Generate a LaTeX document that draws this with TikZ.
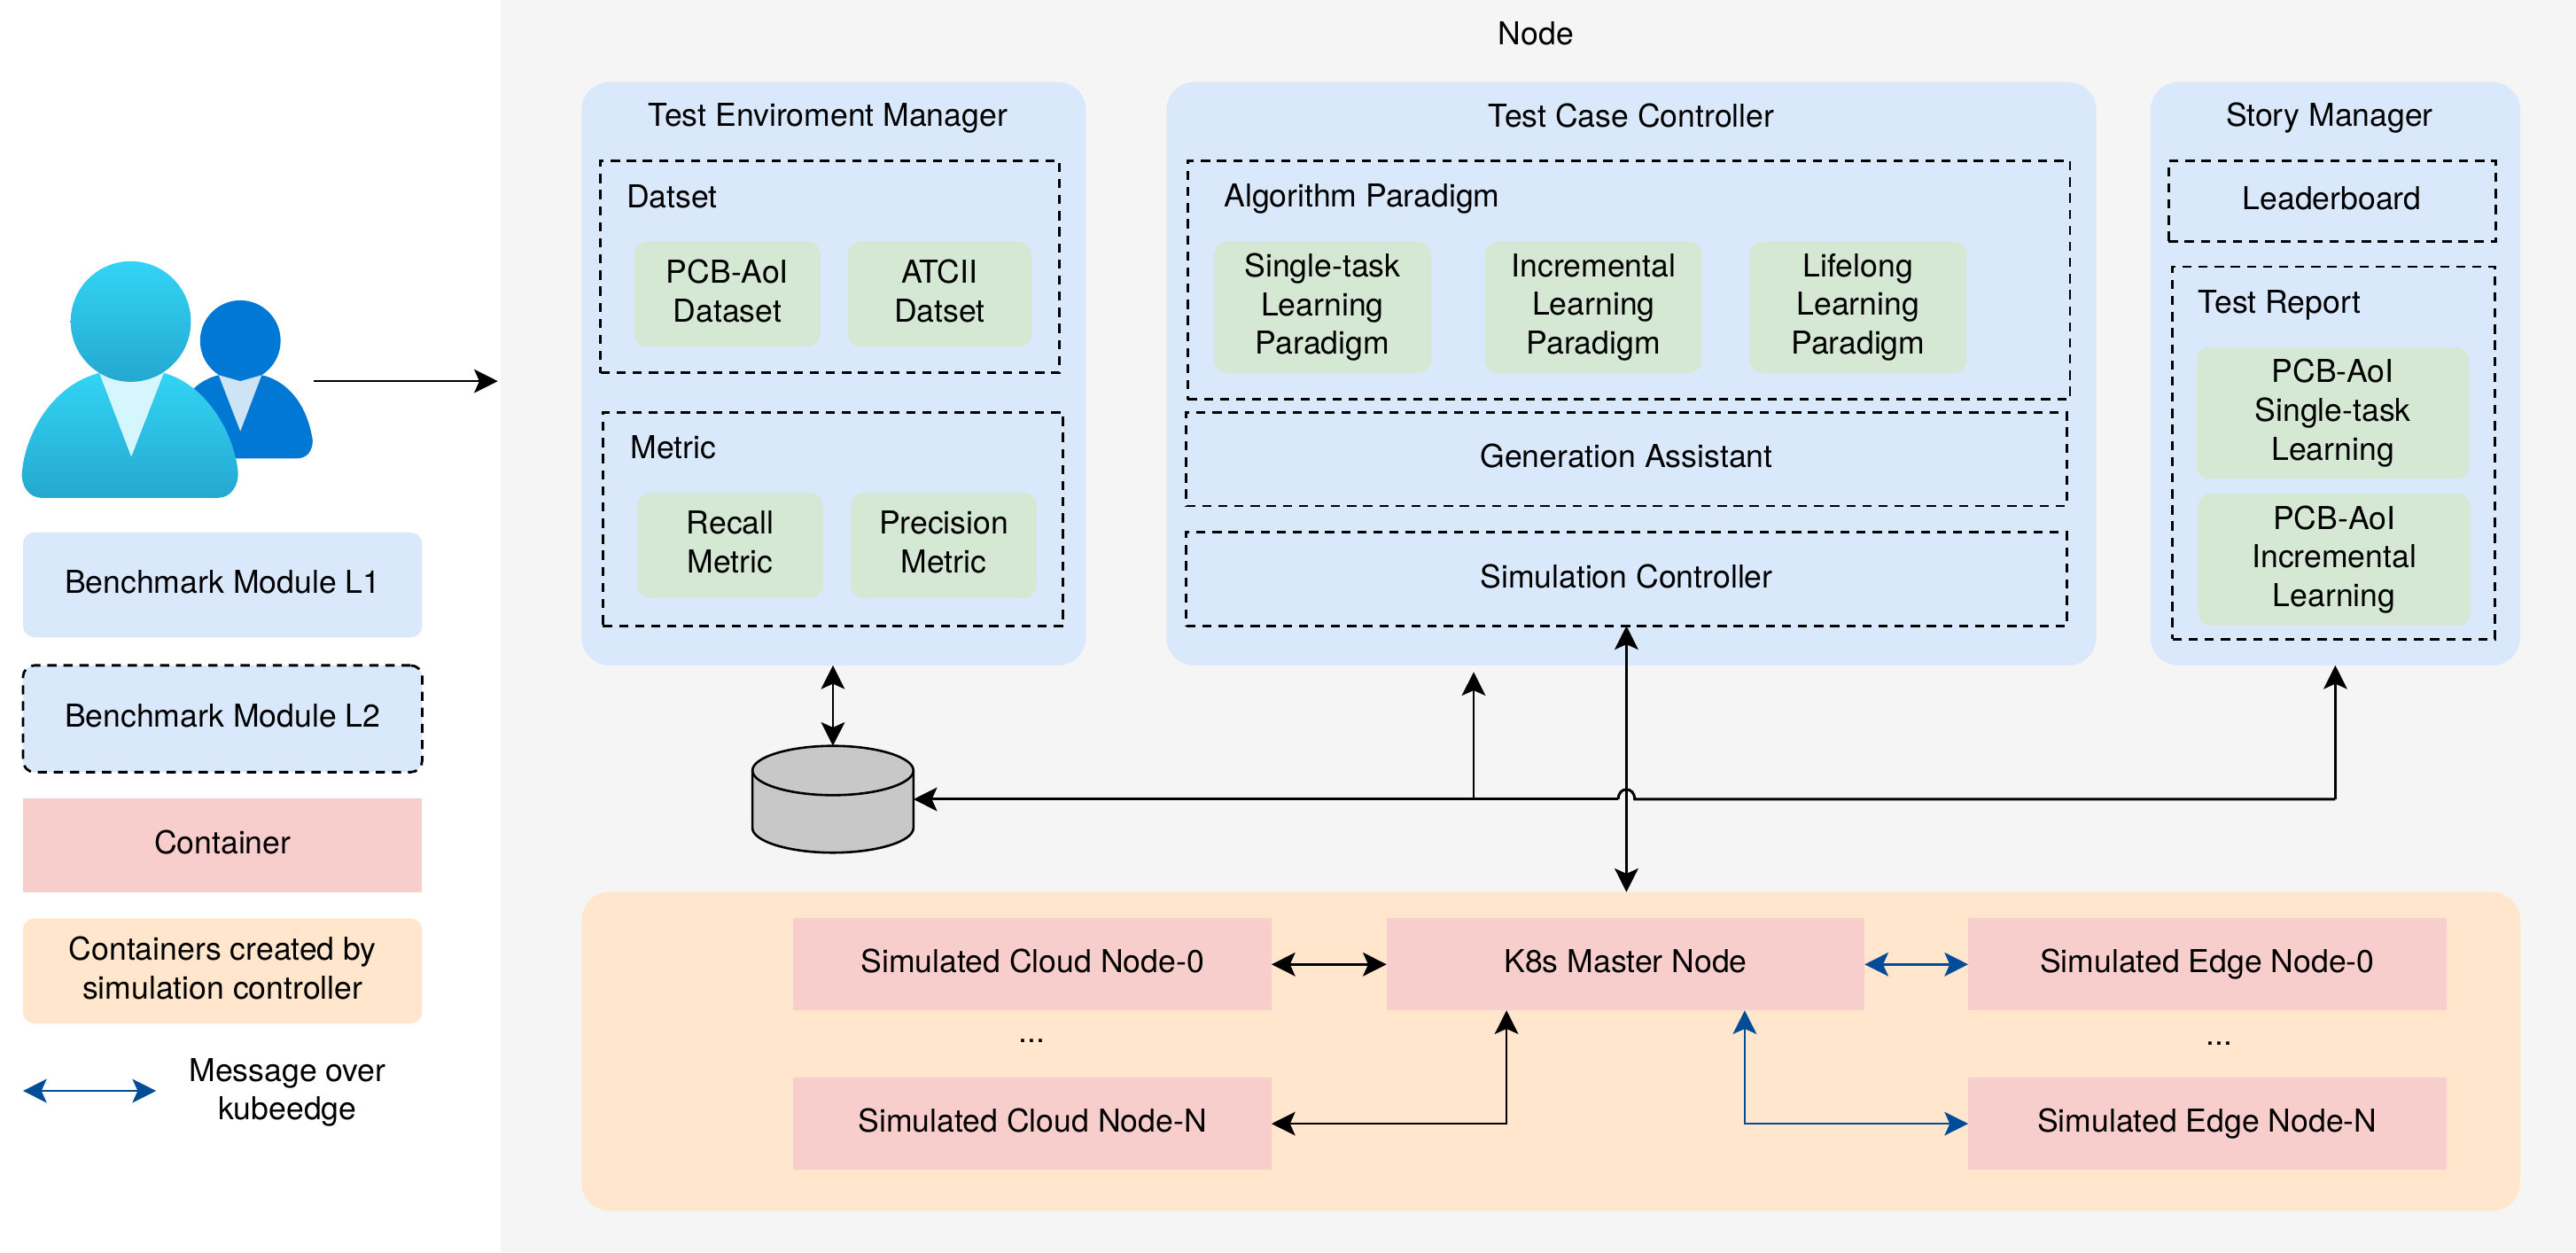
\documentclass[tikz,border=0pt]{standalone}
\usepackage{fontspec}
\setmainfont{TeX Gyre Heros}
\usetikzlibrary{arrows.meta,calc}
\definecolor{nodebg}{HTML}{F5F5F5}
\definecolor{modblue}{HTML}{DAE8FC}
\definecolor{leafgreen}{HTML}{D5E8D4}
\definecolor{contred}{HTML}{F8CECC}
\definecolor{contorange}{HTML}{FFE6CC}
\definecolor{kubeblue}{HTML}{004C99}
\definecolor{dbgrey}{HTML}{C8C8C8}
\definecolor{cyanA}{HTML}{32D4F5}
\definecolor{cyanB}{HTML}{25A8D0}
\definecolor{userblue}{HTML}{0078D4}
\newcommand{\capstrut}{\rule[-2pt]{0pt}{8.9pt}}
\tikzset{
  headtip/.tip={Stealth[length=7.2pt,width=7.2pt,inset=1.6pt]},
  x=0.5pt,y=-0.5pt,
  every node/.style={inner sep=0pt,outer sep=0pt,align=center,font=\fontsize{9.6}{11.8}\selectfont,text=black},
  lbl/.style={execute at begin node=\capstrut,execute at end node=\capstrut},
  lvlone/.style={fill=modblue,rounded corners=8.5pt},
  legone/.style={lbl,fill=modblue,rounded corners=3.5pt},
  lvltwo/.style={lbl,draw=black,line width=0.75pt,dash pattern=on 2.8pt off 2.1pt},
  legtwo/.style={lvltwo,fill=modblue,rounded corners=3.5pt},
  leaf/.style={lbl,fill=leafgreen,rounded corners=4pt},
  cont/.style={lbl,fill=contred},
  contbig/.style={fill=contorange,rounded corners=8.5pt},
  legorange/.style={lbl,fill=contorange,rounded corners=3.5pt},
  link/.style={draw=black,line width=0.65pt,{headtip}-{headtip}},
  uplink/.style={draw=black,line width=0.65pt,-{headtip}},
  buslink/.style={draw=black,line width=0.8pt},
  kube/.style={draw=kubeblue,line width=0.65pt,{headtip}-{headtip}},
}
\newcommand{\boxat}[7][]{%
  \pgfmathsetmacro{\bxw}{(#5-#3)*0.5}\pgfmathsetmacro{\bxh}{(#6-#4)*0.5}%
  \pgfmathsetmacro{\bxx}{(#3+#5)/2}\pgfmathsetmacro{\bxy}{(#4+#6)/2}%
  \node[#1,minimum width=\bxw pt,minimum height=\bxh pt] (#2) at (\bxx,\bxy) {#7};}
\begin{document}
\begin{tikzpicture}
\useasboundingbox (0,0) rectangle (1568,762.16);
% node background
\boxat[fill=nodebg]{nodebg}{305}{0}{1568}{762.16}{}
\node[lbl] (nodetitle) at (935,22) {Node};

% Test environment manager
\boxat[lvlone]{tem}{354}{50}{661}{405}{}
\node[lbl] (temtitle) at (504,72) {Test Enviroment Manager};
\boxat[lvltwo]{dataset}{365.5}{98}{645}{227}{}
\node[lbl] (datasettitle) at (409,121.4) {Datset};
\boxat[leaf]{pcbdata}{386}{147}{499.5}{211}{PCB-AoI\\Dataset}
\boxat[leaf]{atcdata}{516}{147}{628}{211}{ATCII\\Datset}
\boxat[lvltwo]{metric}{367}{251}{647}{381}{}
\node[lbl] (metrictitle) at (410,274) {Metric};
\boxat[leaf]{recall}{388}{300}{501}{364}{Recall\\Metric}
\boxat[leaf]{precision}{518}{300}{631}{364}{Precision\\Metric}

% Test case controller
\boxat[lvlone]{tcc}{710}{50}{1276}{405}{}
\node[lbl] (tcctitle) at (993,72) {Test Case Controller};
\boxat[lvltwo]{algo}{723}{98}{1260}{243}{}
\node[lbl] (algotitle) at (829,121) {Algorithm Paradigm};
\boxat[leaf]{single}{739}{147}{871}{227}{Single-task\\Learning\\Paradigm}
\boxat[leaf]{incr}{904}{147}{1036}{227}{Incremental\\Learning\\Paradigm}
\boxat[leaf]{life}{1065}{147}{1197}{227}{Lifelong\\Learning\\Paradigm}
\boxat[lvltwo]{genass}{722}{251}{1258}{308}{Generation Assistant}
\boxat[lvltwo]{simctrl}{722}{324}{1258}{381}{Simulation Controller}

% Story manager
\boxat[lvlone]{story}{1309}{50}{1534}{405}{}
\node[lbl] (storytitle) at (1418,72) {Story Manager};
\boxat[lvltwo]{leaderboard}{1320}{98}{1519}{147}{Leaderboard}
\boxat[lvltwo]{report}{1322.4}{162.4}{1518.7}{389}{}
\node[lbl] (reporttitle) at (1387.5,185.5) {Test Report};
\boxat[leaf]{pcbsingle}{1337}{211.3}{1503}{291.5}{PCB-AoI\\Single-task\\Learning}
\boxat[leaf]{pcbincr}{1338}{300.3}{1503.6}{381}{PCB-AoI\\Incremental\\Learning}

% Containers
\boxat[contbig]{ctbig}{354}{543}{1534}{737}{}
\boxat[cont]{cloud0}{483}{559}{774}{615}{Simulated Cloud Node-0}
\boxat[cont]{k8s}{844}{559}{1135}{615}{K8s Master Node}
\boxat[cont]{edge0}{1198}{559}{1489}{615}{Simulated Edge Node-0}
\boxat[cont]{cloudn}{483}{656}{774}{712}{Simulated Cloud Node-N}
\boxat[cont]{edgen}{1198}{656}{1489}{712}{Simulated Edge Node-N}
\node[lbl] (cdots) at (628,629.5) {...};
\node[lbl] (edots) at (1351,631.5) {...};

% Legend
\boxat[legone]{legl1}{14}{324}{257}{388}{Benchmark Module L1}
\boxat[legtwo]{legl2}{14}{405}{257}{470}{Benchmark Module L2}
\boxat[cont]{legcont}{14}{486}{257}{543}{Container}
\boxat[legorange]{legorg}{14}{559}{257}{623}{Containers created by\\simulation controller}
\node[lbl] (legmsg) at (175,665) {Message over\\kubeedge};
\coordinate (legA) at (14,664);
\coordinate (legB) at (95,664);
\draw[kube] (legA) -- (legB);

% Users icon
\fill[userblue] (133,228.3) .. controls (118,232) and (104,246) .. (102,279) -- (181,279)
  .. controls (187,279) and (190.5,274) .. (190.3,268) .. controls (187,246) and (175,232) .. (159.5,228.3) -- cycle;
\fill[userblue] (146.3,207.4) ellipse [x radius=24.5,y radius=24.6];
\fill[white!80!userblue] (133.1,228.3) -- (146.3,262.5) -- (159.3,228.3) -- (146.3,232) -- cycle;
\shade[top color=cyanA,middle color=cyanA,bottom color=cyanB]
  (60.5,227) .. controls (33,234) and (16,262) .. (13.4,287)
  .. controls (12.5,296) and (18,303) .. (25,303) -- (133,303)
  .. controls (140,303) and (145.5,296) .. (144.9,287)
  .. controls (142,262) and (125,234) .. (99.7,227) -- cycle;
\fill[cyanA!20!white] (60.5,227) -- (79.9,278) -- (99.7,227) -- (79.6,232) -- cycle;
\shade[top color=cyanA,middle color=cyanA,bottom color=cyanB] (79.6,195.7) ellipse [x radius=36.6,y radius=36.7];
\coordinate (usersout) at (191,232);
\coordinate (nodeedge) at (303,232);
\draw[uplink] (usersout) -- (nodeedge);

% Database
\boxat[]{db}{458}{454}{556}{519}{}
\path[fill=dbgrey,draw=black,line width=0.7pt]
  (458,469) .. controls (458,461) and (480,454) .. (507,454) .. controls (534,454) and (556,461) .. (556,469)
  -- (556,504) .. controls (556,512) and (534,519) .. (507,519) .. controls (480,519) and (458,512) .. (458,504) -- cycle;
\draw[line width=0.7pt] (458,469) .. controls (458,477) and (480,484) .. (507,484) .. controls (534,484) and (556,477) .. (556,469);

% Connectors
\draw[link] (tem.south -| db.north) -- (db.north);
\coordinate (busup) at (897,486.5);
\coordinate (tccin) at (897,409);
\draw[uplink] (busup) -- (tccin);
\coordinate (jumpR) at (995,486.5);
\coordinate (jumpL) at (985,486.5);
\draw[buslink] (story.south |- db.east) -- (jumpR) .. controls (995,478.5) and (985,478.5) .. (jumpL);
\draw[buslink,-{headtip}] (jumpL) -- (db.east);
\draw[uplink] (story.south |- db.east) -- (story.south);
\draw[link] (simctrl.south) -- (simctrl.south |- ctbig.north);
\draw[link] (cloud0) -- (k8s);
\draw[kube] (k8s) -- (edge0);
\coordinate (k8sL) at (917,615);
\coordinate (k8sR) at (1062,615);
\draw[link] (cloudn.east) -| (k8sL);
\draw[kube] (edgen.west) -| (k8sR);
\end{tikzpicture}
\end{document}
